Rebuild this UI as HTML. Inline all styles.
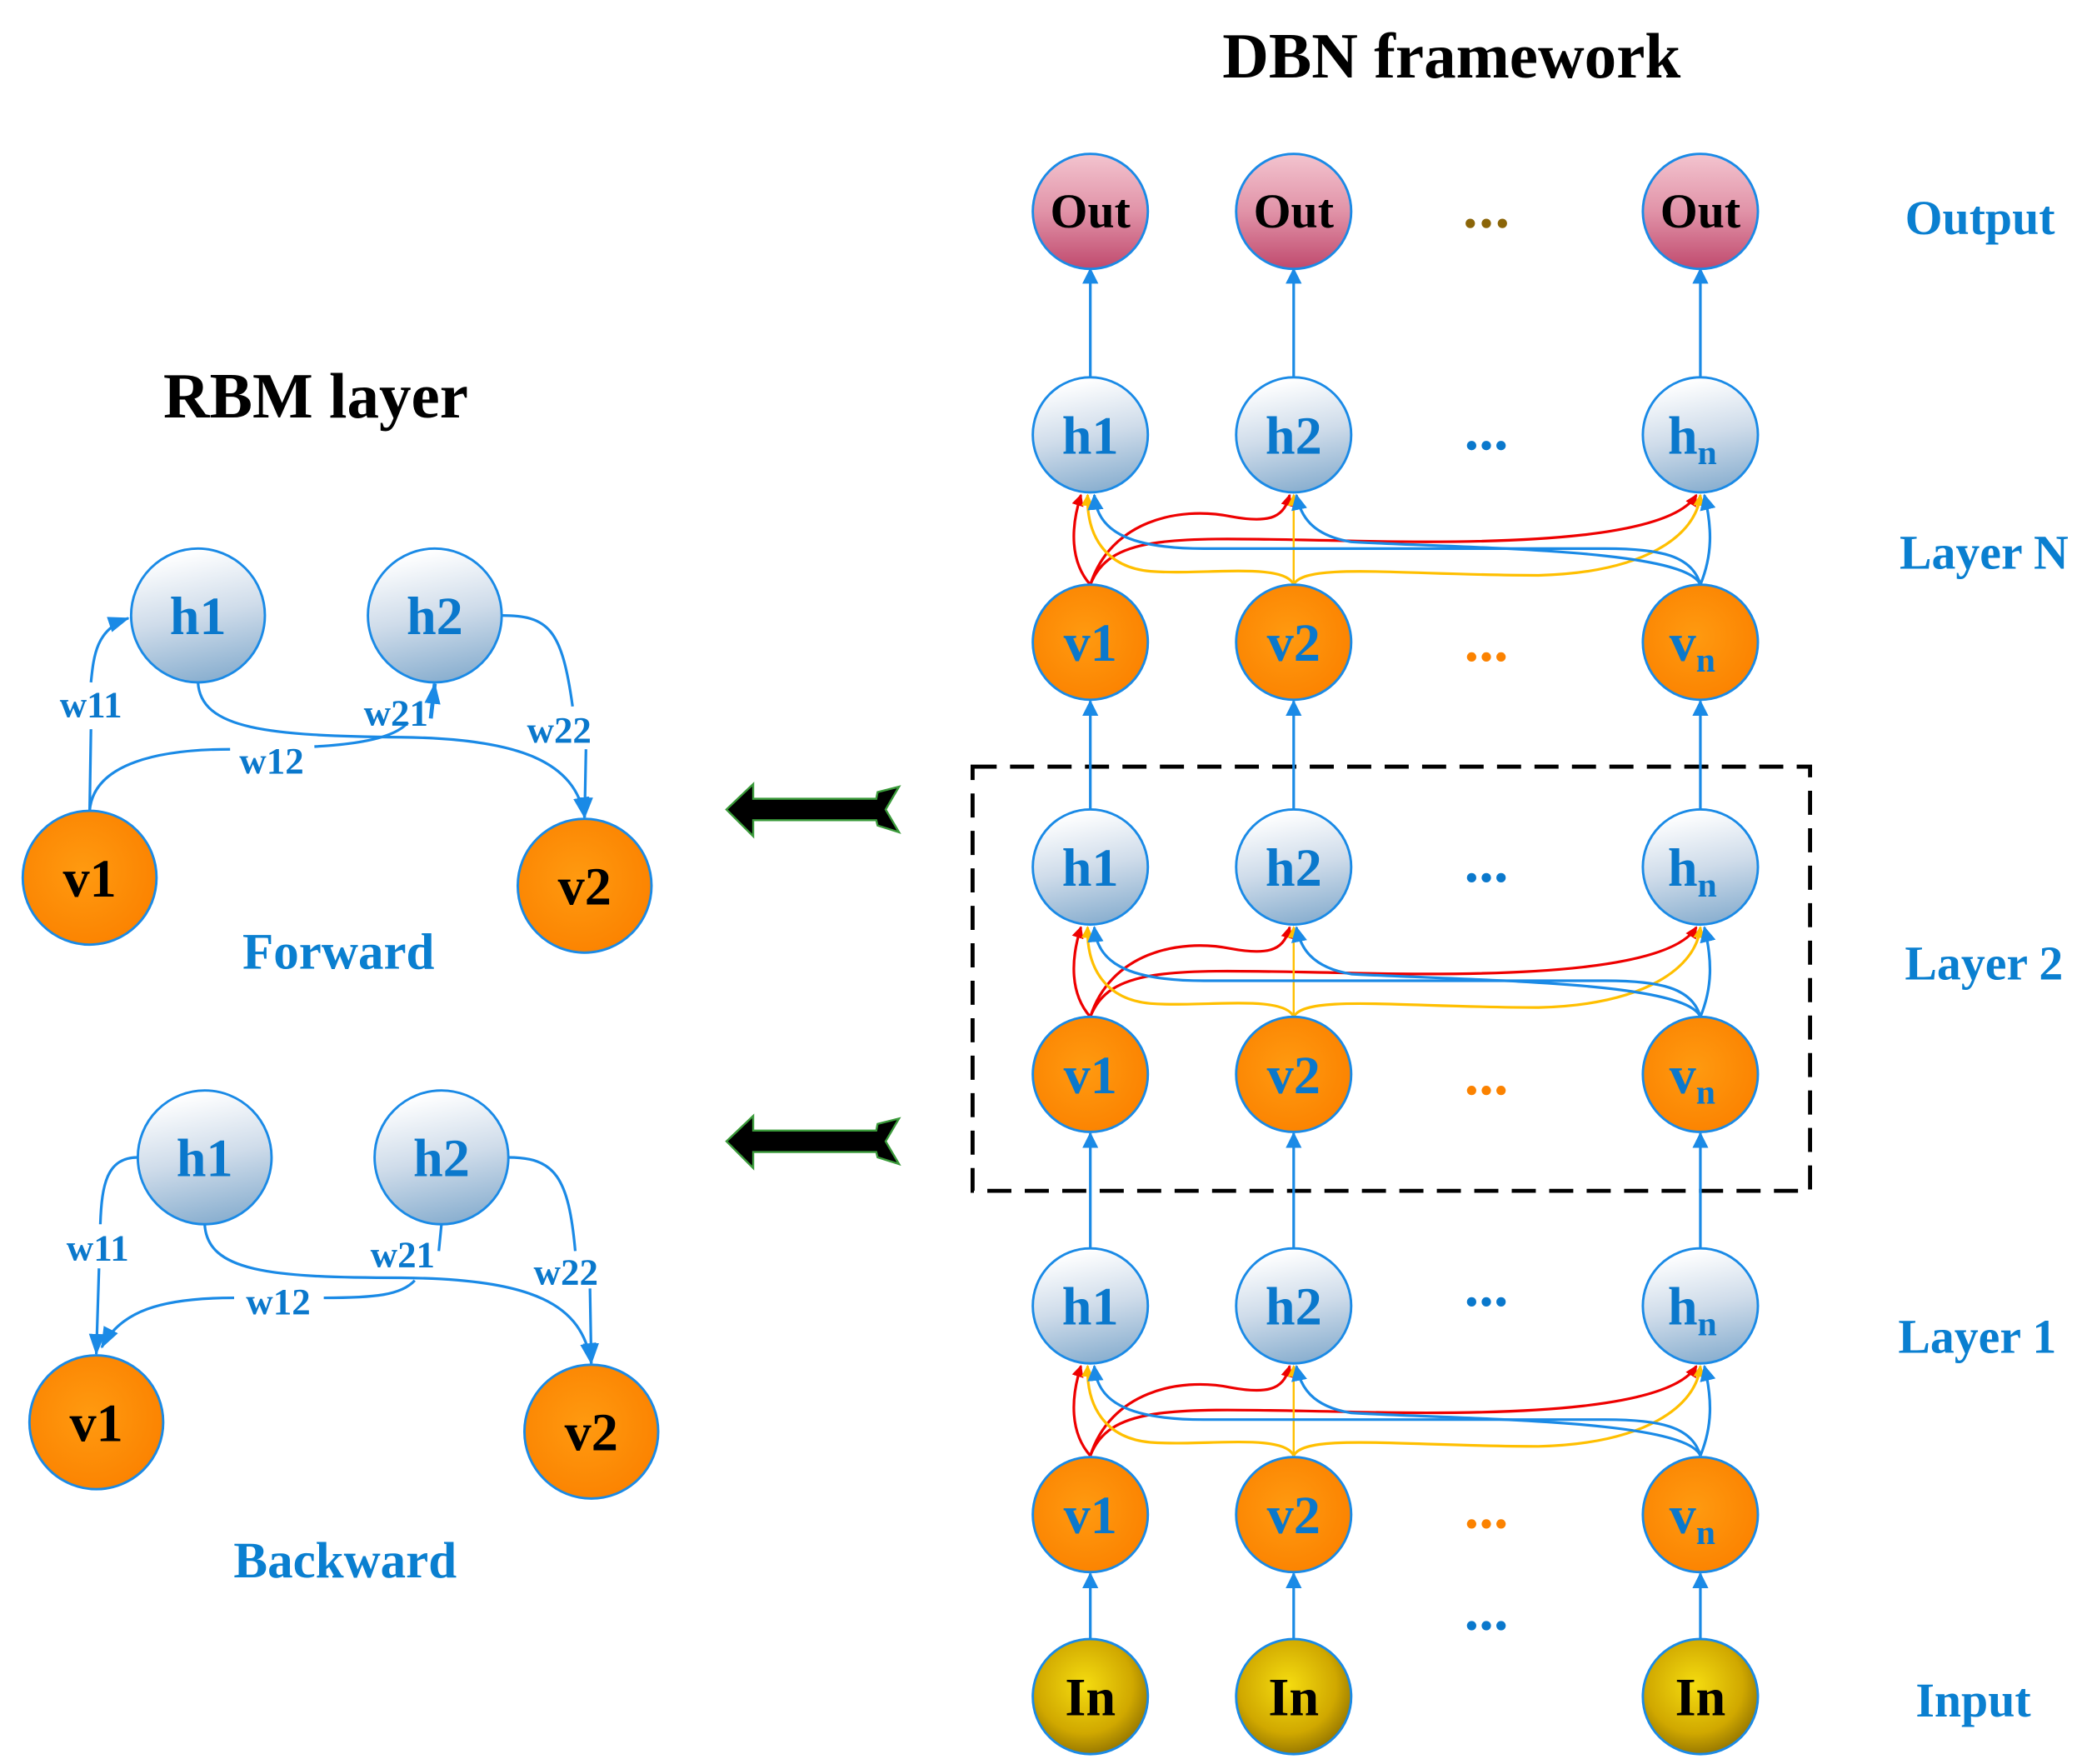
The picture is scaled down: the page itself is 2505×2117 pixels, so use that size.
<!DOCTYPE html>
<html><head><meta charset="utf-8">
<style>html,body{margin:0;padding:0;background:#fff}svg{display:block}</style>
</head><body>
<svg width="2505" height="2117" viewBox="0 0 1560 1318.4" preserveAspectRatio="none" xmlns="http://www.w3.org/2000/svg" font-family="'Liberation Serif',serif" font-weight="bold">
<defs>
<linearGradient id="gOut" x1="0" y1="0" x2="0" y2="1"><stop offset="0" stop-color="#f3c4cf"/><stop offset="0.5" stop-color="#e193a8"/><stop offset="1" stop-color="#c04a6e"/></linearGradient>
<linearGradient id="gH" x1="0.3" y1="0.05" x2="0.5" y2="1"><stop offset="0" stop-color="#ffffff"/><stop offset="0.5" stop-color="#cfdcea"/><stop offset="1" stop-color="#8bb0d0"/></linearGradient>
<radialGradient id="gV" cx="0.45" cy="0.45" r="0.6"><stop offset="0" stop-color="#ff9a10"/><stop offset="1" stop-color="#fb8200"/></radialGradient>
<radialGradient id="gIn" cx="0.45" cy="0.4" r="0.6"><stop offset="0" stop-color="#f5dc10"/><stop offset="0.7" stop-color="#d0a800"/><stop offset="1" stop-color="#9a7a00"/></radialGradient>
<marker id="ab" markerWidth="12" markerHeight="12" refX="11" refY="6" orient="auto" markerUnits="userSpaceOnUse"><path d="M0,0 L12,6 L0,12 Z" fill="#1a8ae6"/></marker>
<marker id="ar" markerWidth="9" markerHeight="9" refX="8" refY="4.5" orient="auto" markerUnits="userSpaceOnUse"><path d="M0,0 L9,4.5 L0,9 Z" fill="#ee0000"/></marker>
<marker id="ay" markerWidth="9" markerHeight="9" refX="8" refY="4.5" orient="auto" markerUnits="userSpaceOnUse"><path d="M0,0 L9,4.5 L0,9 Z" fill="#ffbf00"/></marker>
<marker id="abl" markerWidth="16" markerHeight="16" refX="15" refY="8" orient="auto" markerUnits="userSpaceOnUse"><path d="M0,2 L16,8 L0,14 Z" fill="#1a8ae6"/></marker>
<g id="cross" fill="none" stroke-width="2">
<path d="M815,437 C800,420 800,395 808,370" stroke="#ee0000" marker-end="url(#ar)"/>
<path d="M815,437 C830,390 880,378 920,386 C952,392 960,385 964,370" stroke="#ee0000" marker-end="url(#ar)"/>
<path d="M815,437 C830,398 880,402 1000,404 C1150,408 1250,400 1268,370" stroke="#ee0000" marker-end="url(#ar)"/>
<path d="M967,437 C960,420 900,430 860,427 C826,424 812,400 813,370" stroke="#ffbf00" marker-end="url(#ay)"/>
<path d="M967,437 L967,370" stroke="#ffbf00" stroke-width="1.5" marker-end="url(#ay)"/>
<path d="M967,437 C975,420 1050,430 1150,430 C1230,428 1268,400 1271,370" stroke="#ffbf00" marker-end="url(#ay)"/>
<path d="M1271,437 C1265,415 1240,410 1200,410 L900,410 C840,410 820,395 818,370" stroke="#1a8ae6" marker-end="url(#ab)"/>
<path d="M1271,437 C1260,410 1100,410 1010,405 C980,400 972,385 969,370" stroke="#1a8ae6" marker-end="url(#ab)"/>
<path d="M1271,437 C1280,415 1280,395 1274,370" stroke="#1a8ae6" marker-end="url(#ab)"/>
</g>
</defs>
<rect width="1560" height="1318.4" fill="#fff"/>

<text x="1085" y="58" font-size="48" text-anchor="middle" fill="#000">DBN framework</text>
<text x="236" y="312" font-size="48" text-anchor="middle" fill="#000">RBM layer</text>

<g font-size="36" fill="#0a7fd0" text-anchor="middle">
<text x="1480" y="175">Output</text>
<text x="1483" y="425">Layer N</text>
<text x="1483" y="732">Layer 2</text>
<text x="1478" y="1011">Layer 1</text>
<text x="1475" y="1283">Input</text>
</g>
<g font-size="38" fill="#0a7fd0" text-anchor="middle">
<text x="253" y="724">Forward</text>
<text x="258" y="1179">Backward</text>
</g>

<rect x="727" y="573" width="626" height="317" fill="none" stroke="#000" stroke-width="3" stroke-dasharray="18,10"/>

<g stroke="#1a8ae6" stroke-width="2" fill="none" marker-end="url(#ab)">
<path d="M815,283 L815,201"/><path d="M967,283 L967,201"/><path d="M1271,283 L1271,201"/>
<path d="M815,606 L815,524"/><path d="M967,606 L967,524"/><path d="M1271,606 L1271,524"/>
<path d="M815,933 L815,847"/><path d="M967,933 L967,847"/><path d="M1271,933 L1271,847"/>
<path d="M815,1225 L815,1176"/><path d="M967,1225 L967,1176"/><path d="M1271,1225 L1271,1176"/>
</g>

<use href="#cross"/>
<use href="#cross" transform="translate(0,323)"/>
<use href="#cross" transform="translate(0,651)"/>

<g stroke="#1a8ae6" stroke-width="1.8">
<circle cx="815" cy="158" r="43" fill="url(#gOut)"/><circle cx="967" cy="158" r="43" fill="url(#gOut)"/><circle cx="1271" cy="158" r="43" fill="url(#gOut)"/>
<circle cx="815" cy="325" r="43" fill="url(#gH)"/><circle cx="967" cy="325" r="43" fill="url(#gH)"/><circle cx="1271" cy="325" r="43" fill="url(#gH)"/>
<circle cx="815" cy="480" r="43" fill="url(#gV)"/><circle cx="967" cy="480" r="43" fill="url(#gV)"/><circle cx="1271" cy="480" r="43" fill="url(#gV)"/>
<circle cx="815" cy="648" r="43" fill="url(#gH)"/><circle cx="967" cy="648" r="43" fill="url(#gH)"/><circle cx="1271" cy="648" r="43" fill="url(#gH)"/>
<circle cx="815" cy="803" r="43" fill="url(#gV)"/><circle cx="967" cy="803" r="43" fill="url(#gV)"/><circle cx="1271" cy="803" r="43" fill="url(#gV)"/>
<circle cx="815" cy="976" r="43" fill="url(#gH)"/><circle cx="967" cy="976" r="43" fill="url(#gH)"/><circle cx="1271" cy="976" r="43" fill="url(#gH)"/>
<circle cx="815" cy="1132" r="43" fill="url(#gV)"/><circle cx="967" cy="1132" r="43" fill="url(#gV)"/><circle cx="1271" cy="1132" r="43" fill="url(#gV)"/>
<circle cx="815" cy="1268" r="43" fill="url(#gIn)"/><circle cx="967" cy="1268" r="43" fill="url(#gIn)"/><circle cx="1271" cy="1268" r="43" fill="url(#gIn)"/>
</g>

<g font-size="36" fill="#000" text-anchor="middle">
<text x="815" y="170">Out</text><text x="967" y="170">Out</text><text x="1271" y="170">Out</text>
</g>
<g font-size="40" fill="#000" text-anchor="middle">
<text x="815" y="1282">In</text><text x="967" y="1282">In</text><text x="1271" y="1282">In</text>
</g>
<g font-size="40" fill="#0a78cc" text-anchor="middle">
<text x="815" y="339">h1</text><text x="967" y="339">h2</text><text x="1265" y="339">h<tspan font-size="26" dy="8">n</tspan></text>
<text x="815" y="494">v1</text><text x="967" y="494">v2</text><text x="1265" y="494">v<tspan font-size="26" dy="8">n</tspan></text>
<text x="815" y="662">h1</text><text x="967" y="662">h2</text><text x="1265" y="662">h<tspan font-size="26" dy="8">n</tspan></text>
<text x="815" y="817">v1</text><text x="967" y="817">v2</text><text x="1265" y="817">v<tspan font-size="26" dy="8">n</tspan></text>
<text x="815" y="990">h1</text><text x="967" y="990">h2</text><text x="1265" y="990">h<tspan font-size="26" dy="8">n</tspan></text>
<text x="815" y="1146">v1</text><text x="967" y="1146">v2</text><text x="1265" y="1146">v<tspan font-size="26" dy="8">n</tspan></text>
</g>

<g>
<g fill="#8b6508"><circle cx="1099" cy="167" r="3.5"/><circle cx="1111" cy="167" r="3.5"/><circle cx="1123" cy="167" r="3.5"/></g>
<g fill="#0a78cc"><circle cx="1100" cy="333" r="3.5"/><circle cx="1111" cy="333" r="3.5"/><circle cx="1122" cy="333" r="3.5"/>
<circle cx="1100" cy="656" r="3.5"/><circle cx="1111" cy="656" r="3.5"/><circle cx="1122" cy="656" r="3.5"/>
<circle cx="1100" cy="973" r="3.5"/><circle cx="1111" cy="973" r="3.5"/><circle cx="1122" cy="973" r="3.5"/>
<circle cx="1100" cy="1215" r="3.5"/><circle cx="1111" cy="1215" r="3.5"/><circle cx="1122" cy="1215" r="3.5"/></g>
<g fill="#fb8200"><circle cx="1100" cy="491" r="3.5"/><circle cx="1111" cy="491" r="3.5"/><circle cx="1122" cy="491" r="3.5"/>
<circle cx="1100" cy="815" r="3.5"/><circle cx="1111" cy="815" r="3.5"/><circle cx="1122" cy="815" r="3.5"/>
<circle cx="1100" cy="1139" r="3.5"/><circle cx="1111" cy="1139" r="3.5"/><circle cx="1122" cy="1139" r="3.5"/></g>
</g>

<g fill="#000" stroke="#3a9a3a" stroke-width="1.5">
<path d="M543,605 L563,586 L563,597 L655,597 L656,592 L672,588 L662,605 L672,622 L656,617 L655,613 L563,613 L563,625 Z"/>
<path d="M543,853 L563,834 L563,845 L655,845 L656,840 L672,836 L662,853 L672,870 L656,865 L655,861 L563,861 L563,873 Z"/>
</g>

<g fill="none" stroke="#1a8ae6" stroke-width="2">
<path d="M67,606 L68,545"/><path d="M68,510 C70,490 72,470 96,462" marker-end="url(#abl)"/>
<path d="M148,510 C150,545 200,550 300,551 C390,552 430,570 437,611" marker-end="url(#abl)"/>
<path d="M375,460 C410,460 420,470 428,528"/><path d="M438,560 L437,611" marker-end="url(#abl)"/>
<path d="M67,606 C70,570 120,560 172,560"/><path d="M235,558 C290,555 300,545 305,540"/>
<path d="M322,537 L325,511" stroke-width="3" marker-end="url(#abl)"/>
</g>
<g stroke="#1a8ae6" stroke-width="1.8">
<circle cx="148" cy="460" r="50" fill="url(#gH)"/><circle cx="325" cy="460" r="50" fill="url(#gH)"/>
<circle cx="67" cy="656" r="50" fill="url(#gV)"/><circle cx="437" cy="662" r="50" fill="url(#gV)"/>
</g>
<g font-size="40" text-anchor="middle">
<text x="148" y="474" fill="#0a78cc">h1</text><text x="325" y="474" fill="#0a78cc">h2</text>
<text x="67" y="670" fill="#000">v1</text><text x="437" y="676" fill="#000">v2</text>
</g>
<g font-size="28" fill="#0a78cc" text-anchor="middle">
<text x="68" y="536">w11</text><text x="296" y="542">w21</text><text x="418" y="555">w22</text><text x="203" y="578">w12</text>
</g>

<g fill="none" stroke="#1a8ae6" stroke-width="2">
<path d="M103,865 C80,865 76,885 75,915"/><path d="M74,948 L72,1012" marker-end="url(#abl)"/>
<path d="M153,915 C155,950 200,955 300,955 C400,956 435,975 442,1019" marker-end="url(#abl)"/>
<path d="M380,865 C415,865 425,880 430,935"/><path d="M441,963 L442,1019" marker-end="url(#abl)"/>
<path d="M330,915 L328,935"/>
<path d="M310,957 C300,968 280,970 242,970"/><path d="M175,970 C120,970 90,980 76,1007" marker-end="url(#abl)"/>
</g>
<g stroke="#1a8ae6" stroke-width="1.8">
<circle cx="153" cy="865" r="50" fill="url(#gH)"/><circle cx="330" cy="865" r="50" fill="url(#gH)"/>
<circle cx="72" cy="1063" r="50" fill="url(#gV)"/><circle cx="442" cy="1070" r="50" fill="url(#gV)"/>
</g>
<g font-size="40" text-anchor="middle">
<text x="153" y="879" fill="#0a78cc">h1</text><text x="330" y="879" fill="#0a78cc">h2</text>
<text x="72" y="1077" fill="#000">v1</text><text x="442" y="1084" fill="#000">v2</text>
</g>
<g font-size="28" fill="#0a78cc" text-anchor="middle">
<text x="73" y="942">w11</text><text x="301" y="947">w21</text><text x="423" y="960">w22</text><text x="208" y="982">w12</text>
</g>
</svg>
</body></html>
